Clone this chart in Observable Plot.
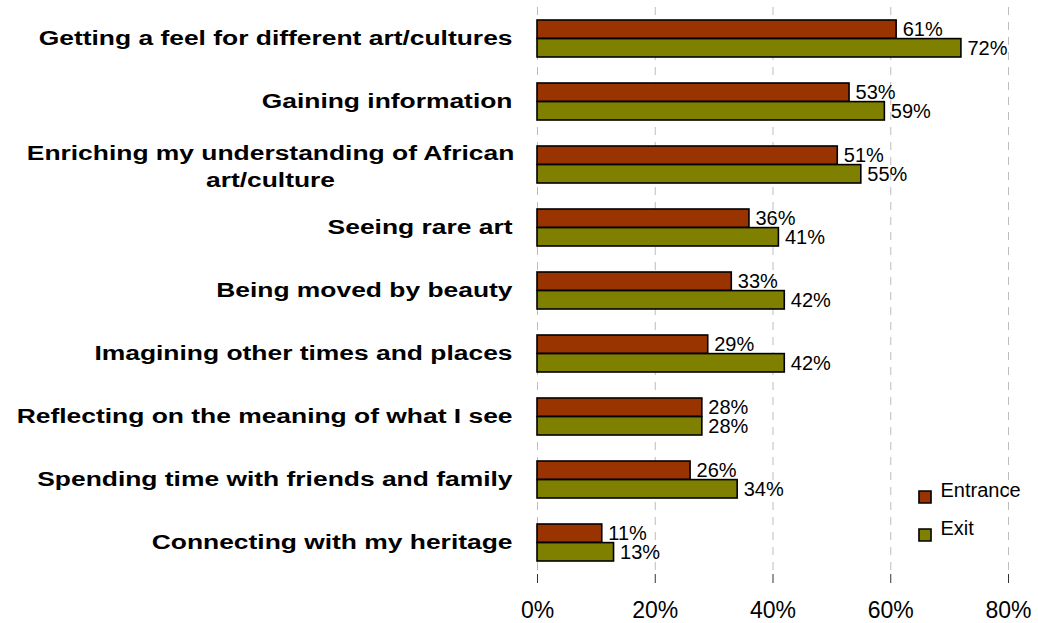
<!DOCTYPE html>
<html>
<head>
<meta charset="utf-8">
<script src="https://cdn.jsdelivr.net/npm/d3@7"></script>
<script src="https://cdn.jsdelivr.net/npm/@observablehq/plot@0.6"></script>
<style>
  html, body { margin: 0; padding: 0; background: #fff; }
  #chart { width: 1038px; height: 623px; }
</style>
</head>
<body>
<div id="chart"></div>
<script>
const categories = [
  "Getting a feel for different art/cultures",
  "Gaining information",
  "Enriching my understanding of African art/culture",
  "Seeing rare art",
  "Being moved by beauty",
  "Imagining other times and places",
  "Reflecting on the meaning of what I see",
  "Spending time with friends and family",
  "Connecting with my heritage"
];
const series = ["Entrance", "Exit"];
const entrance = [61, 53, 51, 36, 33, 29, 28, 26, 11];
const exit = [72, 59, 55, 41, 42, 42, 28, 34, 13];
const xTicks = [0, 20, 40, 60, 80];
const colors = ["#993300", "#808000"];
const wrapped = "Enriching my understanding of African\nart/culture";

const rowsE = categories.map((c, i) => ({category: c, series: series[0], value: entrance[i]}));
const rowsX = categories.map((c, i) => ({category: c, series: series[1], value: exit[i]}));

const font = "Liberation Sans, Arial, sans-serif";
const half = 18.6;

const chart = Plot.plot({
  width: 1038,
  height: 623,
  marginLeft: 537,
  marginRight: 30,
  marginTop: 7,
  marginBottom: 49,
  style: {fontFamily: font, background: "#fff", overflow: "visible"},
  x: {domain: [0, 80], ticks: xTicks, tickFormat: d => d + "%", label: null},
  y: {domain: categories, paddingInner: 0.41, paddingOuter: 0.205, label: null},
  color: {domain: series, range: colors},
  marks: [
    Plot.gridX(xTicks, {stroke: "#bdbdbd", strokeOpacity: 1, strokeWidth: 1, strokeDasharray: "8,7"}),
    Plot.barX(rowsE, {x: "value", y: "category", fill: colors[0], stroke: "#000", strokeWidth: 1.6, insetBottom: half}),
    Plot.barX(rowsX, {x: "value", y: "category", fill: colors[1], stroke: "#000", strokeWidth: 1.6, insetTop: half}),
    Plot.text(rowsE, {x: "value", y: "category", text: d => d.value + "%", dy: -9.3, dx: 6, textAnchor: "start", fontSize: 20, fill: "#000"}),
    Plot.text(rowsX, {x: "value", y: "category", text: d => d.value + "%", dy: 9.3, dx: 6, textAnchor: "start", fontSize: 20, fill: "#000"}),
    Plot.axisX({ticks: xTicks, tickFormat: d => d + "%", tickSize: 9, tickPadding: 18, fontSize: 23, stroke: "#333", color: "#000", label: null}),
    Plot.ruleY([0], {frameAnchor: "bottom", stroke: "#333", strokeWidth: 1.2}),
    Plot.axisY({tickSize: 0, tickPadding: 25, fontSize: 20, fontWeight: "bold", color: "#000", label: null,
      tickFormat: d => d === categories[2] ? "" : d}),
    Plot.text([categories[2]], {y: d => d, text: () => wrapped, frameAnchor: "left", textAnchor: "middle", dx: -267, lineHeight: 1.35, fontSize: 20, fontWeight: "bold", fill: "#000", className: "wrapped-label"}),
    Plot.dot([series[0]], {frameAnchor: "bottom-right", dx: -83.5, dy: -77.5, symbol: "square", r: 6.8, fill: colors[0], stroke: "#000", strokeWidth: 1.6}),
    Plot.dot([series[1]], {frameAnchor: "bottom-right", dx: -83.5, dy: -39.5, symbol: "square", r: 6.8, fill: colors[1], stroke: "#000", strokeWidth: 1.6}),
    Plot.text([series[0]], {frameAnchor: "bottom-right", dx: -68, dy: -77.5, text: d => d, textAnchor: "start", fontSize: 20, fill: "#000"}),
    Plot.text([series[1]], {frameAnchor: "bottom-right", dx: -68, dy: -39.5, text: d => d, textAnchor: "start", fontSize: 20, fill: "#000"})
  ]
});
document.getElementById("chart").appendChild(chart);

// Stretch category labels horizontally to match the wide label face of the reference
const stretch = 1.32;
function widen(el) {
  const w = el.getComputedTextLength();
  if (w > 0) {
    el.setAttribute("textLength", (w * stretch).toFixed(1));
    el.setAttribute("lengthAdjust", "spacingAndGlyphs");
  }
}
chart.querySelectorAll('g[aria-label="y-axis tick label"] text').forEach(t => {
  const spans = t.querySelectorAll("tspan");
  if (spans.length) spans.forEach(widen); else widen(t);
});
chart.querySelectorAll('g.wrapped-label text tspan, .wrapped-label tspan').forEach(widen);
</script>
</body>
</html>
